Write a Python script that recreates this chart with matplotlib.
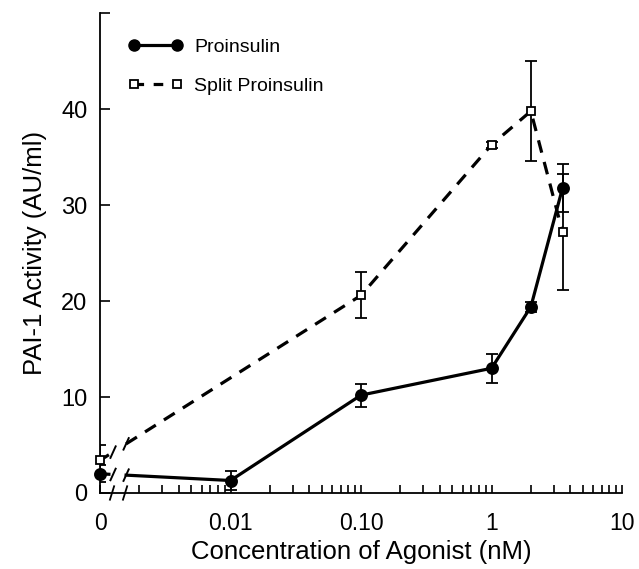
import numpy as np
import matplotlib
matplotlib.use("Agg")
import matplotlib.pyplot as plt
from matplotlib.lines import Line2D

plt.rcParams['font.family'] = ['Liberation Sans', 'DejaVu Sans']

# x = 0 is drawn at the 0.001 position of the log axis (broken axis)
x_zero = 0.001
conc_pro = [0, 0.01, 0.1, 1, 2, 3.5]
act_pro = [2.0, 1.3, 10.2, 13.0, 19.4, 31.8]
err_pro = [0.9, 1.0, 1.2, 1.5, 0.5, 2.5]

conc_split = [0, 0.1, 1, 2, 3.5]
act_split = [3.4, 20.6, 36.3, 39.8, 27.2]
err_split = [1.6, 2.4, 0.3, 5.2, 6.0]

xtick_vals = [x_zero, 0.01, 0.1, 1, 10]
xtick_labels = ['0', '0.01', '0.10', '1', '10']
ytick_vals = [0, 10, 20, 30, 40, 50]
ytick_labels = ['0', '10', '20', '30', '40', '']

XMIN, XMAX, YMAX = 0.001, 10, 50
gap = (0.025, 0.05)          # break gap in axes fraction (x)

fig = plt.figure(figsize=(6.39, 5.69), dpi=100)
ax = fig.add_axes([0.1565, 0.1336, 0.8170, 0.8430])
ax.set_xscale('log')
ax.set_xlim(XMIN, XMAX)
ax.set_ylim(0, YMAX)


def fx(x):
    return (np.log10(x) - np.log10(XMIN)) / (np.log10(XMAX) - np.log10(XMIN))


def inv_fx(f):
    return 10 ** (np.log10(XMIN) + f * (np.log10(XMAX) - np.log10(XMIN)))


def draw_series(conc, act, err, ls, marker, mfc, ms):
    xs = np.array([x_zero if c == 0 else c for c in conc])
    ys = np.array(act)
    # first segment split by the axis break
    f0, f1 = fx(xs[0]), fx(xs[1])
    def y_at(f):
        return ys[0] + (ys[1] - ys[0]) * (f - f0) / (f1 - f0)
    ax.plot([xs[0], inv_fx(gap[0] - 0.008)], [ys[0], y_at(gap[0] - 0.008)],
            color='black', lw=2.3, ls=ls, zorder=2, dash_capstyle='butt')
    ax.plot(np.r_[inv_fx(gap[1]), xs[1:]], np.r_[y_at(gap[1]), ys[1:]],
            color='black', lw=2.3, ls=ls, zorder=2, dash_capstyle='butt')
    for f in gap:
        fy = y_at(f) / YMAX
        ax.add_line(Line2D([f - 0.005, f + 0.005], [fy - 0.012, fy + 0.012],
                           transform=ax.transAxes, color='black', lw=1.4))
    ax.errorbar(xs, ys, yerr=err, fmt='none', ecolor='black', elinewidth=1.3,
                capsize=4.5, capthick=1.3, zorder=3)
    ax.plot(xs, ys, ls='none', marker=marker, mfc=mfc, mec='black', mew=1.3,
            ms=ms, zorder=4, clip_on=False)


draw_series(conc_split, act_split, err_split, (0, (4, 3)), 's', 'white', 6)
draw_series(conc_pro, act_pro, err_pro, '-', 'o', 'black', 8)

# axis break marks on x axis
for f in gap:
    ax.add_line(Line2D([f - 0.006, f + 0.002], [-0.014, 0.014],
                       transform=ax.transAxes, color='black', lw=1.3, clip_on=False))

for s in ['top', 'right']:
    ax.spines[s].set_visible(False)
ax.spines['left'].set_linewidth(1.3)
ax.spines['bottom'].set_linewidth(1.3)

ax.set_xticks(xtick_vals)
ax.set_xticklabels(xtick_labels)
minor = [m * 10.0 ** e for e in range(-3, 1) for m in range(2, 10)]
ax.set_xticks(minor, minor=True)
ax.xaxis.set_minor_formatter(matplotlib.ticker.NullFormatter())
ax.set_yticks(ytick_vals)
ax.set_yticklabels(ytick_labels)
ax.tick_params(axis='both', which='both', direction='in', width=1.2)
ax.tick_params(axis='x', which='both', length=6, pad=14, labelsize=16.5)
ax.tick_params(axis='y', length=7, pad=9, labelsize=17)

ax.set_xlabel('Concentration of Agonist (nM)', fontsize=18.5, labelpad=3)
ax.set_ylabel('PAI-1 Activity (AU/ml)', fontsize=18.5, labelpad=10)

handles = [
    Line2D([], [], color='black', lw=2.3, marker='o', ms=8, mfc='black', mec='black'),
    Line2D([], [], color='black', lw=2.3, ls=(0, (3, 3)), marker='s', ms=6,
           mfc='white', mec='black', mew=1.3),
]
ax.legend(handles, ['Proinsulin', 'Split Proinsulin'], loc='upper left',
          bbox_to_anchor=(0.02, 0.985), frameon=False, fontsize=14,
          handlelength=2.8, numpoints=2, labelspacing=1.1, handletextpad=0.6)

fig.savefig('out.png', dpi=100)
